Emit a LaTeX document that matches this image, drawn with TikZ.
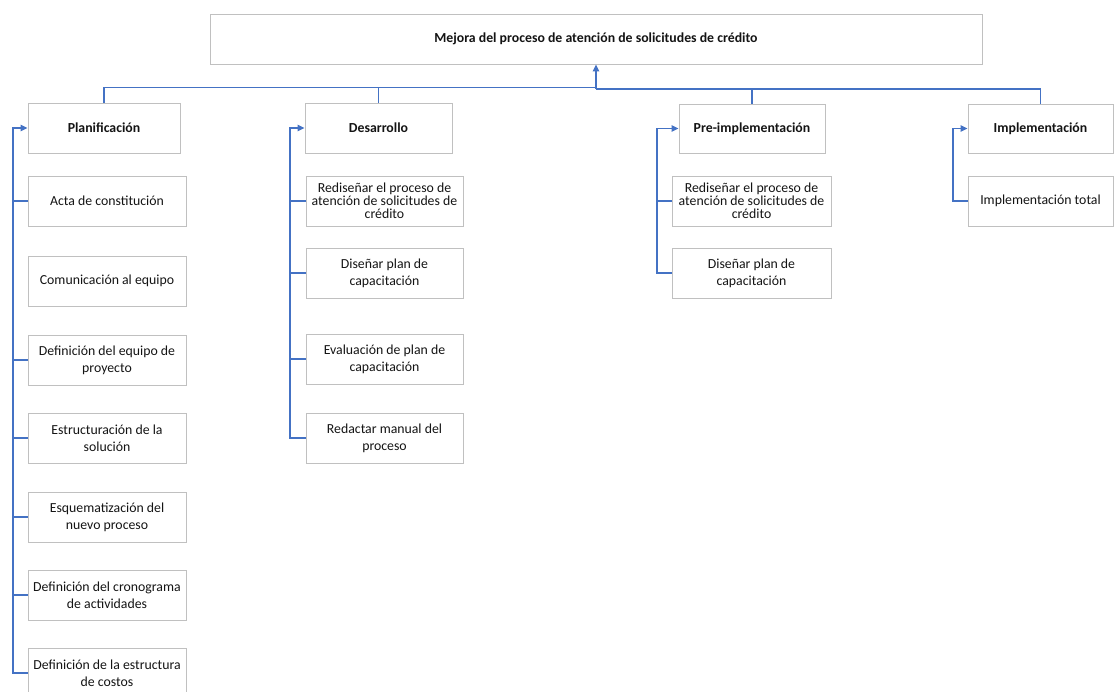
\documentclass[tikz,border=0pt]{standalone}
\usepackage{fontspec}
\setmainfont{Carlito}
\usetikzlibrary{arrows.meta}
\definecolor{boxline}{RGB}{192,192,192}
\definecolor{connblue}{RGB}{68,114,196}
\definecolor{txt}{RGB}{20,20,20}
\tikzset{
  box/.style={draw=boxline, line width=0.9pt, fill=white, align=center, inner sep=1pt,
    minimum height=50pt, text=txt, font=\fontsize{13.8}{16.7}\selectfont},
  tight/.style={font=\fontsize{13.8}{13}\selectfont},
  head/.style={box, font=\fontsize{13.8}{15}\selectfont\bfseries},
  conn/.style={draw=connblue, line width=1.3pt},
  tip/.style={-{Triangle[length=7pt,width=6.5pt]}},
}
\begin{document}
\begin{tikzpicture}[x=1pt,y=-1pt]
\useasboundingbox (0,0) rectangle (1114,692);
% top
\node[head, minimum width=772pt] (top) at (596,39) {Mejora del proceso de atención de solicitudes de crédito};
% level 1
\node[head, minimum width=152pt] (plan) at (104,128) {Planificación};
\node[head, minimum width=147pt] (des) at (378.5,128) {Desarrollo};
\node[head, minimum width=146pt, minimum height=49pt] (pre) at (752,128.5) {Pre-implementación};
\node[head, minimum width=145pt, minimum height=49pt] (imp) at (1040.5,128.5) {Implementación};
% Planificacion children
\node[box, minimum width=158pt] (acta) at (107,201) {Acta de constitución};
\node[box, minimum width=158pt] (com) at (107,281) {Comunicación al equipo};
\node[box, minimum width=158pt] (defeq) at (107,360) {Definición del equipo de\\proyecto};
\node[box, minimum width=158pt] (estr) at (107,438) {Estructuración de la\\solución};
\node[box, minimum width=158pt] (esq) at (107,517) {Esquematización del\\nuevo proceso};
\node[box, minimum width=158pt] (cron) at (107,595) {Definición del cronograma\\de actividades};
\node[box, minimum width=158pt] (cost) at (107,673) {Definición de la estructura\\de costos};
% Desarrollo children
\node[box, tight, minimum width=157pt] (redis) at (384.5,201) {Rediseñar el proceso de\\atención de solicitudes de\\crédito};
\node[box, minimum width=157pt] (disen) at (384.5,273) {Diseñar plan de\\capacitación};
\node[box, minimum width=157pt] (eval) at (384.5,359) {Evaluación de plan de\\capacitación};
\node[box, minimum width=157pt] (redac) at (384.5,438) {Redactar manual del\\proceso};
% Pre-implementacion children
\node[box, tight, minimum width=159pt] (redis2) at (751.5,201) {Rediseñar el proceso de\\atención de solicitudes de\\crédito};
\node[box, minimum width=159pt] (disen2) at (751.5,273) {Diseñar plan de\\capacitación};
% Implementacion child
\node[box, minimum width=145pt] (impt) at (1040.5,201) {Implementación total};
% top connectors
\coordinate (jl) at (596,87.5);
\coordinate (jr) at (596,89);
\draw[conn] (plan.north) |- (jl);
\draw[conn] (des.north) |- (jl);
\draw[conn] (pre.north) |- (jr);
\draw[conn] (imp.north) |- (jr);
\draw[conn, tip] (jr) -- (top.south);
% spines
\coordinate (ps) at (13,0);
\coordinate (ds) at (290,0);
\coordinate (rs) at (657,0);
\coordinate (is) at (953,0);
\draw[conn, tip] (cost.west) -- (ps |- cost.west) -- (ps |- plan.west) -- (plan.west);
\foreach \n in {acta,defeq,estr,esq,cron} \draw[conn] (ps |- \n.west) -- (\n.west);
\draw[conn, tip] (redac.west) -- (ds |- redac.west) -- (ds |- des.west) -- (des.west);
\foreach \n in {redis,disen,eval} \draw[conn] (ds |- \n.west) -- (\n.west);
\draw[conn, tip] (disen2.west) -- (rs |- disen2.west) -- (rs |- pre.west) -- (pre.west);
\draw[conn] (rs |- redis2.west) -- (redis2.west);
\draw[conn, tip] (impt.west) -- (is |- impt.west) -- (is |- imp.west) -- (imp.west);
\end{tikzpicture}
\end{document}
